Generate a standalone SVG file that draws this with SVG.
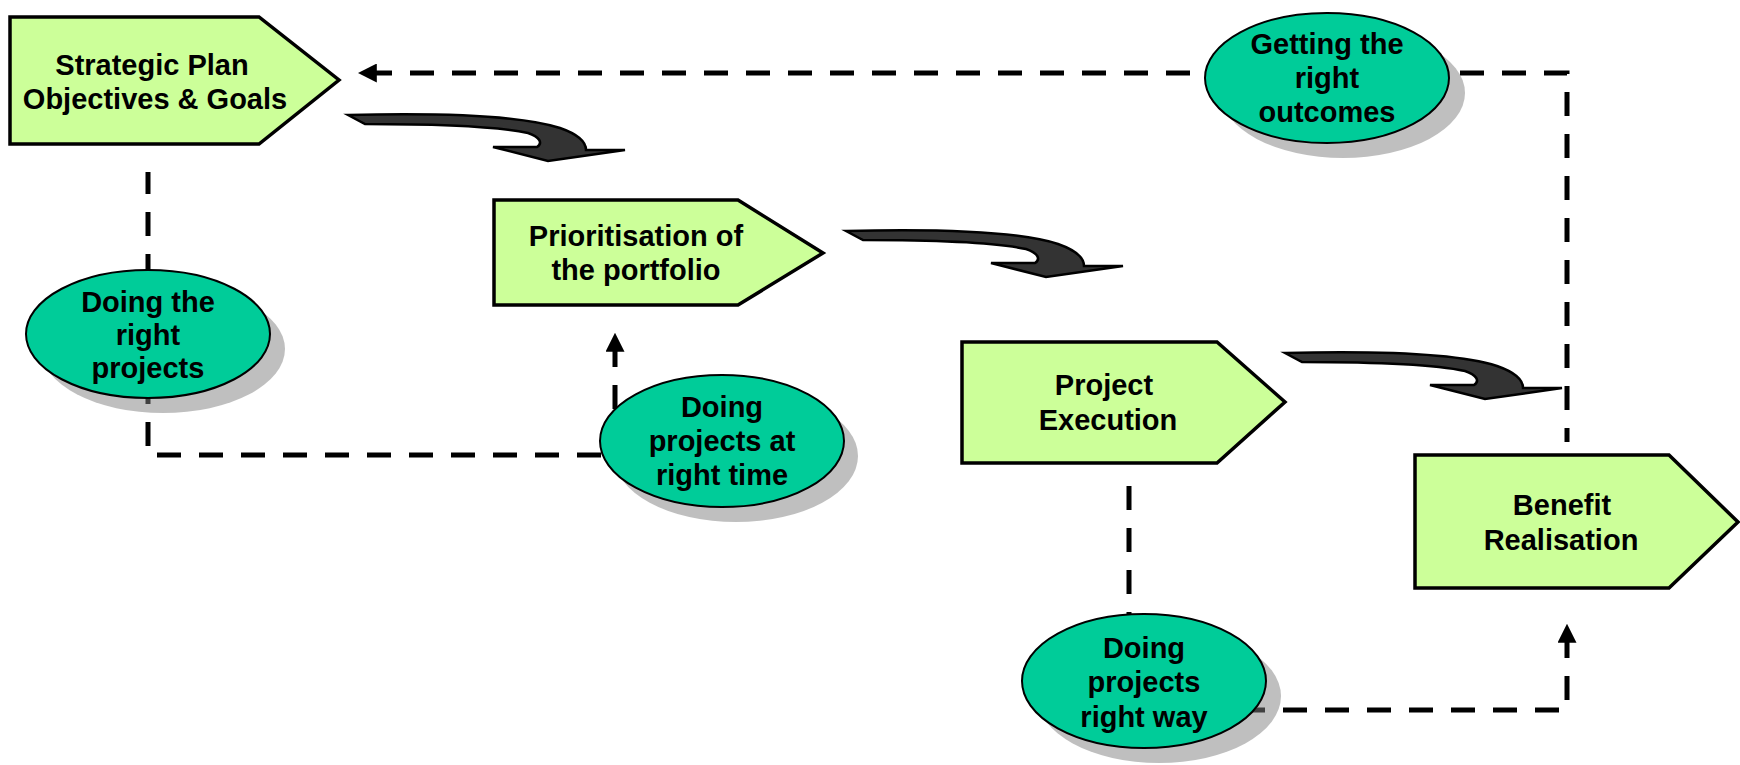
<svg xmlns="http://www.w3.org/2000/svg" width="1740" height="765" viewBox="0 0 1740 765">
<style>
.box{fill:#CCFF99;stroke:#000;stroke-width:3.5;stroke-linejoin:miter}
.ell{fill:#00CC99;stroke:#000;stroke-width:2}
.shd{fill:#808080;opacity:0.5}
.t{font-family:"Liberation Sans",Arial,sans-serif;font-weight:bold;font-size:29px;fill:#000;text-anchor:middle}
.dash{fill:none;stroke:#000;stroke-width:5;stroke-dasharray:24 18}
.curve{fill:#333333;stroke:#000;stroke-width:2.5;stroke-linejoin:miter}
</style>
<defs>
<marker id="ah" viewBox="0 0 10 10" refX="2" refY="5" markerWidth="19" markerHeight="19" markerUnits="userSpaceOnUse" orient="auto-start-reverse">
<path d="M0,0 L10,5 L0,10 z" fill="#000"/>
</marker>
<path id="carrow" d="M348,115 C430,113 520,115 560,128 C580,135 586,143 586,150 L625,150 L548,161 L493,147 L537,147 C543,143 540,137 528,133 C500,127 440,124 365,124 Z"/>
</defs>
<g id="connectors">
<path class="dash" d="M373,73 H1567 V442" stroke-dashoffset="5" marker-start="url(#ah)"/>
<path class="dash" d="M615,348 V455 H148 V172" stroke-dashoffset="5" marker-start="url(#ah)"/>
<path class="dash" d="M1567,639 V710 H1129 V470" stroke-dashoffset="5" marker-start="url(#ah)"/>
<use href="#carrow" class="curve"/>
<use href="#carrow" class="curve" transform="translate(498,116)"/>
<use href="#carrow" class="curve" transform="translate(937,238)"/>
</g>
<g id="strategic">
<polygon class="box" points="10,17 259,17 339,80 259,144 10,144"/>
<text class="t" x="152" y="75">Strategic Plan</text>
<text class="t" x="155" y="109">Objectives &amp; Goals</text>
</g>
<g id="prioritisation">
<polygon class="box" points="494,200 738,200 823,253 738,305 494,305"/>
<text class="t" x="636" y="246">Prioritisation of</text>
<text class="t" x="636" y="280">the portfolio</text>
</g>
<g id="execution">
<polygon class="box" points="962,342 1217,342 1285,402 1217,463 962,463"/>
<text class="t" x="1104" y="395">Project</text>
<text class="t" x="1108" y="430">Execution</text>
</g>
<g id="benefit">
<polygon class="box" points="1415,455 1669,455 1738,522 1669,588 1415,588"/>
<text class="t" x="1562" y="515">Benefit</text>
<text class="t" x="1561" y="550">Realisation</text>
</g>
<g id="right-projects">
<ellipse class="shd" cx="163" cy="349" rx="122" ry="64"/>
<ellipse class="ell" cx="148" cy="334" rx="122" ry="64"/>
<text class="t" x="148" y="312">Doing the</text>
<text class="t" x="148" y="345">right</text>
<text class="t" x="148" y="378">projects</text>
</g>
<g id="right-time">
<ellipse class="shd" cx="736" cy="456" rx="122" ry="66"/>
<ellipse class="ell" cx="722" cy="441" rx="122" ry="66"/>
<text class="t" x="722" y="417">Doing</text>
<text class="t" x="722" y="451">projects at</text>
<text class="t" x="722" y="485">right time</text>
</g>
<g id="right-outcomes">
<ellipse class="shd" cx="1343" cy="93" rx="122" ry="65"/>
<ellipse class="ell" cx="1327" cy="78" rx="122" ry="65"/>
<text class="t" x="1327" y="54">Getting the</text>
<text class="t" x="1327" y="88">right</text>
<text class="t" x="1327" y="122">outcomes</text>
</g>
<g id="right-way">
<ellipse class="shd" cx="1159" cy="696" rx="122" ry="67"/>
<ellipse class="ell" cx="1144" cy="681" rx="122" ry="67"/>
<text class="t" x="1144" y="658">Doing</text>
<text class="t" x="1144" y="692">projects</text>
<text class="t" x="1144" y="727">right way</text>
</g>
</svg>
